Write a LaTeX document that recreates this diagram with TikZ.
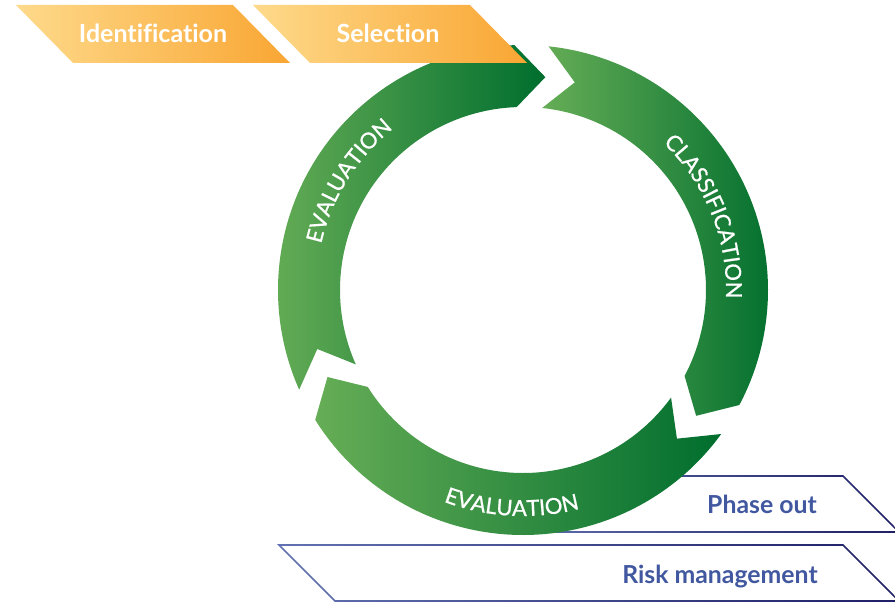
\documentclass[tikz,border=0pt]{standalone}
\usepackage{fontspec}
\setmainfont{Lato}[Ligatures=NoCommon]
\newfontfamily\ringfam{Lato}[FakeBold=0.8]
\usetikzlibrary{decorations.text}
\definecolor{glight}{HTML}{66AD56}
\definecolor{gdark}{HTML}{006E2E}
\definecolor{olight}{HTML}{FEDA8B}
\definecolor{odark}{HTML}{F9A633}
\definecolor{blight}{HTML}{6272B2}
\definecolor{bdark}{HTML}{1E1E66}
\definecolor{bluetext}{HTML}{4158A1}
\newcommand{\ringfont}{\ringfam\fontsize{22}{22}\selectfont}
\newcommand{\greenarc}[1]{%
  \pgfmathsetmacro\tn{#1-8}%
  \pgfmathsetmacro\hb{#1-112}%
  \pgfmathsetmacro\tp{#1-120}%
  \path[greenband] (#1:245pt) -- (\tn:214pt) -- (#1:183pt)
    arc[start angle=#1, end angle=\hb, radius=183pt]
    -- (\tp:214pt) -- (\hb:245pt)
    arc[start angle=\hb, end angle=#1, radius=245pt] -- cycle;}
% #1 top-left x, #2 top y, #3 top-right x, #4 slant/height
\newcommand{\slantbox}[4]{%
  \fill[white] (#1,#2) -- (#3,#2) -- ({#3+#4},{#2-#4}) -- ({#1+#4},{#2-#4}) -- cycle;
  \path[outline] ({#1-1.93},{#2+0.8}) -- ({#3+0.33},{#2+0.8}) -- ({#3+#4+1.93},{#2-#4-0.8}) -- ({#1+#4-0.33},{#2-#4-0.8}) -- cycle
    ({#1+1.93},{#2-0.8}) -- ({#3-0.33},{#2-0.8}) -- ({#3+#4-1.93},{#2-#4+0.8}) -- ({#1+#4+0.33},{#2-#4+0.8}) -- cycle;}
\begin{document}
\begin{tikzpicture}[x=1pt,y=1pt,
  greenband/.style={left color=glight,right color=gdark},
  orangebox/.style={left color=olight,right color=odark},
  outline/.style={even odd rule,left color=blight,right color=bdark},
  orangetext/.style={text=white,font=\bfseries\fontsize{25}{25}\selectfont,anchor=base,inner sep=0pt},
  bluetxt/.style={text=bluetext,font=\bfseries\fontsize{24.8}{24.8}\selectfont,anchor=base,inner sep=0pt},
  ringtext/.style={decorate,decoration={text along path,text align=center,text color=white,text={|\ringfont|#1}}}]
\useasboundingbox (0,0) rectangle (895,-602);
% lower boxes
\slantbox{500}{-476}{843}{56}
\slantbox{279}{-545}{843}{56}
% ring
\begin{scope}[shift={(523,-290)}]
  \greenarc{84}
  \greenarc{-36}
  \greenarc{-156}
  \path[ringtext=CLASSIFICATION] (62:203pt) arc[start angle=62, end angle=-18, radius=203pt];
  \path[ringtext=EVALUATION] (188:207pt) arc[start angle=188, end angle=108, radius=207pt];
  \path[ringtext=EVALUATION] (-133:226pt) arc[start angle=-133, end angle=-53, radius=226pt];
\end{scope}
% top boxes
\path[orangebox] (16,-5) -- (233,-5) -- (290,-63) -- (73,-63) -- cycle;
\path[orangebox] (253,-5) -- (470,-5) -- (527,-63) -- (310,-63) -- cycle;
\node[orangetext] (ident) at (153,-43) {Identification};
\node[orangetext] (select) at (388,-43) {Selection};
\node[bluetxt] (phase) at (762,-513) {Phase out};
\node[bluetxt] (risk) at (720,-583) {Risk management};
\end{tikzpicture}
\end{document}
